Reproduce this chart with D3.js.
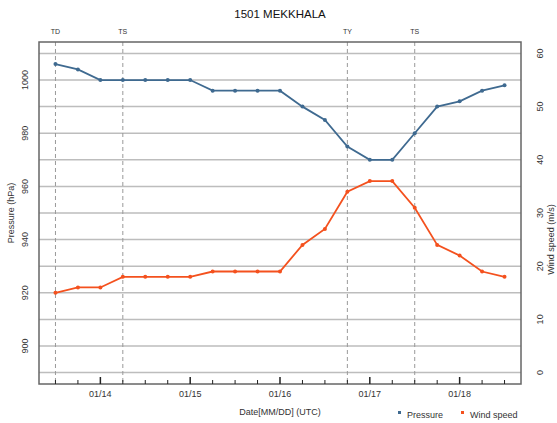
<!DOCTYPE html>
<html>
<head>
<meta charset="utf-8">
<script src="https://cdn.jsdelivr.net/npm/d3@7"></script>
<style>
  body { margin: 0; background: #fff; }
  text { font-family: "Liberation Sans", Arial, sans-serif; fill: #333; }
</style>
</head>
<body>
<div class="chart"></div>
<script>
var svgWidth = 557;
var svgHeight = 423;

var margin = { top: 42, right: 36, bottom: 39, left: 39 };
var width = svgWidth - margin.left - margin.right;
var height = svgHeight - margin.top - margin.bottom;

// 6-hourly track data, 01/13 12Z .. 01/18 12Z (UTC)
var times = [
  "2015-01-13T12", "2015-01-13T18", "2015-01-14T00", "2015-01-14T06",
  "2015-01-14T12", "2015-01-14T18", "2015-01-15T00", "2015-01-15T06",
  "2015-01-15T12", "2015-01-15T18", "2015-01-16T00", "2015-01-16T06",
  "2015-01-16T12", "2015-01-16T18", "2015-01-17T00", "2015-01-17T06",
  "2015-01-17T12", "2015-01-17T18", "2015-01-18T00", "2015-01-18T06",
  "2015-01-18T12"
];
var pressure = [1006, 1004, 1000, 1000, 1000, 1000, 1000, 996, 996, 996, 996,
  990, 985, 975, 970, 970, 980, 990, 992, 996, 998];
var windSpeed = [15, 16, 16, 18, 18, 18, 18, 19, 19, 19, 19,
  24, 27, 34, 36, 36, 31, 24, 22, 19, 18];

// stage changes (dashed lines)
var stageTimes = ["2015-01-13T12", "2015-01-14T06", "2015-01-16T18", "2015-01-17T12"];
var stageNames = ["TD", "TS", "TY", "TS"];

var dayTicks = ["2015-01-14T00", "2015-01-15T00", "2015-01-16T00", "2015-01-17T00", "2015-01-18T00"];
var pressureTicks = [900, 920, 940, 960, 980, 1000];
var windTicks = [0, 10, 20, 30, 40, 50, 60];

var parseT = function(s) { return new Date(s + ":00:00Z"); };

var data = times.map(function(t, i) {
  return { t: parseT(t), p: pressure[i], w: windSpeed[i] };
});

var pressColor = "#3f6a90";
var windColor = "#f4511e";

var svg = d3.select(".chart").append("svg")
  .attr("width", svgWidth)
  .attr("height", svgHeight);

var chart = svg.append("g")
  .attr("transform", "translate(" + margin.left + "," + margin.top + ")");

// scales
var pad = 4.4 * 3600 * 1000;
var xScale = d3.scaleUtc()
  .domain([new Date(data[0].t - pad), new Date(+data[data.length - 1].t + pad)])
  .range([0, width]);
var yPress = d3.scaleLinear().domain([885.7, 1014.3]).range([height, 0]);
var yWind = d3.scaleLinear().domain([-2.15, 62.15]).range([height, 0]);

// horizontal grid every 10 hPa
chart.append("g").selectAll("line")
  .data(d3.range(890, 1011, 10))
  .enter().append("line")
  .attr("x1", 0).attr("x2", width)
  .attr("y1", function(d) { return yPress(d); })
  .attr("y2", function(d) { return yPress(d); })
  .attr("stroke", "#bdbdbd")
  .attr("stroke-width", 1.5);

// stage lines
chart.append("g").selectAll("line")
  .data(stageTimes)
  .enter().append("line")
  .attr("x1", function(d) { return xScale(parseT(d)); })
  .attr("x2", function(d) { return xScale(parseT(d)); })
  .attr("y1", 0).attr("y2", height)
  .attr("stroke", "#999")
  .attr("stroke-dasharray", "4,3");

chart.append("g").selectAll("text")
  .data(stageTimes)
  .enter().append("text")
  .attr("x", function(d) { return xScale(parseT(d)); })
  .attr("y", -8)
  .attr("text-anchor", "middle")
  .style("font-size", "7px")
  .text(function(d, i) { return stageNames[i]; });

// frame
chart.append("rect")
  .attr("width", width).attr("height", height)
  .attr("fill", "none")
  .attr("stroke", "#666")
  .attr("stroke-width", 1.5);

// x ticks, pointing inward
var sixHours = d3.utcHour.every(6).range(xScale.domain()[0], xScale.domain()[1]);
chart.append("g").selectAll("line")
  .data(sixHours)
  .enter().append("line")
  .attr("x1", function(d) { return xScale(d); })
  .attr("x2", function(d) { return xScale(d); })
  .attr("y1", height)
  .attr("y2", function(d) { return d.getUTCHours() === 0 ? height - 7 : height - 4; })
  .attr("stroke", "#222")
  .attr("stroke-width", function(d) { return d.getUTCHours() === 0 ? 1.5 : 1; });

chart.append("g").selectAll("text")
  .data(dayTicks)
  .enter().append("text")
  .attr("x", function(d) { return xScale(parseT(d)); })
  .attr("y", height + 13)
  .attr("text-anchor", "middle")
  .style("font-size", "9px")
  .text(function(d) { return d3.utcFormat("%m/%d")(parseT(d)); });

// left axis labels (rotated)
chart.append("g").selectAll("text")
  .data(pressureTicks)
  .enter().append("text")
  .attr("transform", function(d) { return "translate(-14," + yPress(d) + ") rotate(-90)"; })
  .attr("text-anchor", "middle")
  .attr("dy", "0.35em")
  .style("font-size", "9px")
  .text(function(d) { return d; });

// right axis labels (rotated)
chart.append("g").selectAll("text")
  .data(windTicks)
  .enter().append("text")
  .attr("transform", function(d) { return "translate(" + (width + 19) + "," + yWind(d) + ") rotate(-90)"; })
  .attr("text-anchor", "middle")
  .attr("dy", "0.35em")
  .style("font-size", "9px")
  .text(function(d) { return d; });

// axis titles
chart.append("text")
  .attr("transform", "translate(-28," + yPress(950) + ") rotate(-90)")
  .attr("text-anchor", "middle")
  .attr("dy", "0.35em")
  .style("font-size", "9px")
  .text("Pressure (hPa)");

chart.append("text")
  .attr("transform", "translate(" + (width + 30) + "," + yWind(25) + ") rotate(-90)")
  .attr("text-anchor", "middle")
  .attr("dy", "0.35em")
  .style("font-size", "9px")
  .text("Wind speed (m/s)");

chart.append("text")
  .attr("x", width / 2)
  .attr("y", height + 31)
  .attr("text-anchor", "middle")
  .style("font-size", "9px")
  .text("Date[MM/DD] (UTC)");

svg.append("text")
  .attr("x", margin.left + width / 2)
  .attr("y", 18)
  .attr("text-anchor", "middle")
  .style("font-size", "11.5px")
  .style("fill", "#111")
  .text("1501 MEKKHALA");

// series
var pressLine = d3.line()
  .x(function(d) { return xScale(d.t); })
  .y(function(d) { return yPress(d.p); });
var windLine = d3.line()
  .x(function(d) { return xScale(d.t); })
  .y(function(d) { return yWind(d.w); });

chart.append("path").datum(data)
  .attr("d", pressLine)
  .attr("fill", "none")
  .attr("stroke", pressColor)
  .attr("stroke-width", 1.8);

chart.append("g").selectAll("circle")
  .data(data).enter().append("circle")
  .attr("cx", function(d) { return xScale(d.t); })
  .attr("cy", function(d) { return yPress(d.p); })
  .attr("r", 2)
  .attr("fill", pressColor);

chart.append("path").datum(data)
  .attr("d", windLine)
  .attr("fill", "none")
  .attr("stroke", windColor)
  .attr("stroke-width", 1.8);

chart.append("g").selectAll("circle")
  .data(data).enter().append("circle")
  .attr("cx", function(d) { return xScale(d.t); })
  .attr("cy", function(d) { return yWind(d.w); })
  .attr("r", 2)
  .attr("fill", windColor);

// legend
var legend = svg.append("g").attr("transform", "translate(398,415)");
var legendItems = [{ name: "Pressure", color: pressColor, x: 0 },
  { name: "Wind speed", color: windColor, x: 63 }];
legendItems.forEach(function(item) {
  legend.append("rect")
    .attr("x", item.x).attr("y", -4)
    .attr("width", 3).attr("height", 3)
    .attr("fill", item.color);
  legend.append("text")
    .attr("x", item.x + 9).attr("y", 0)
    .attr("dy", "0.35em")
    .style("font-size", "9px")
    .text(item.name);
});
</script>
</body>
</html>
